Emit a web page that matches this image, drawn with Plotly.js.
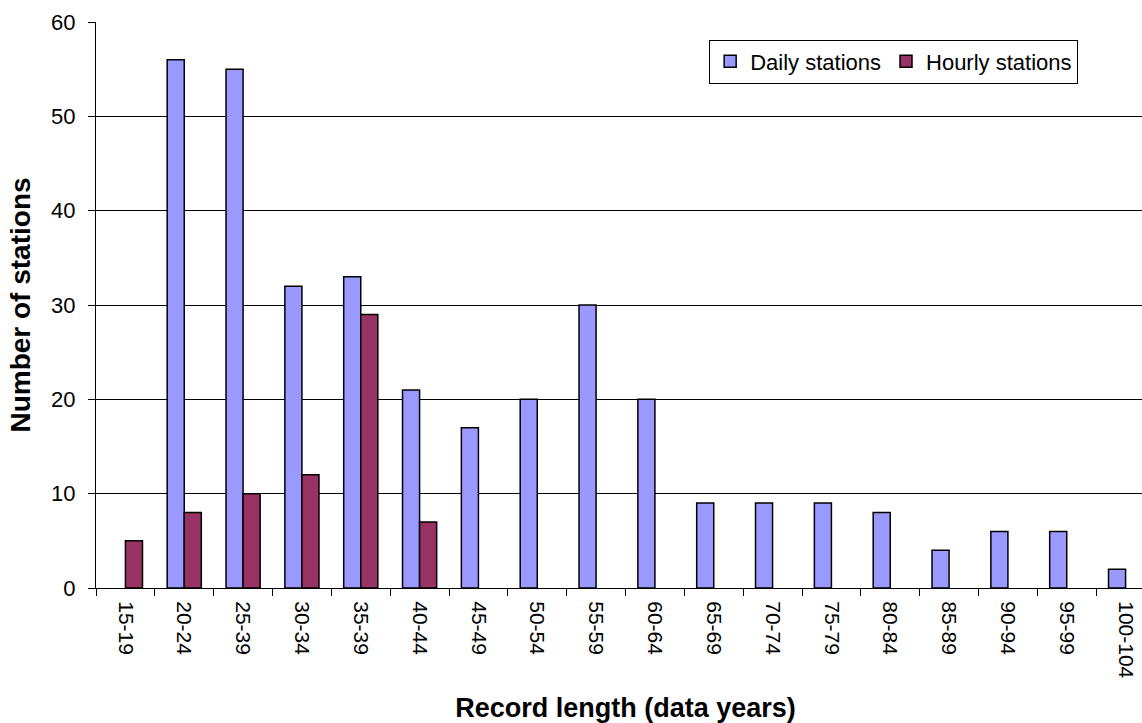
<!DOCTYPE html>
<html>
<head>
<meta charset="utf-8">
<script src="https://cdn.plot.ly/plotly-3.0.1.min.js"></script>
<style>
html,body{margin:0;padding:0;overflow:hidden;background:#fff;}
#chart{width:1160px;height:723px;}
</style>
</head>
<body>
<div id="chart"></div>
<script>
const categories = ["15-19","20-24","25-39","30-34","35-39","40-44","45-49","50-54","55-59","60-64","65-69","70-74","75-79","80-84","85-89","90-94","95-99","100-104"];
const dailyStations = [null,56,55,32,33,21,17,20,30,20,9,9,9,8,4,6,6,2];
const hourlyStations = [5,8,10,12,29,7,null,null,null,null,null,null,null,null,null,null,null,null];
const yTicks = [0,10,20,30,40,50,60];

const font = "Liberation Sans, Arial, sans-serif";

const traces = [
  {type:"bar", name:"Daily stations", x:categories, y:dailyStations,
   marker:{color:"#9999FF", line:{color:"#000", width:1.5}}},
  {type:"bar", name:"Hourly stations", x:categories, y:hourlyStations,
   marker:{color:"#993366", line:{color:"#000", width:1.5}}}
];

const layout = {
  width:1160, height:723,
  margin:{l:96, r:5, t:22, b:135},
  paper_bgcolor:"#fff", plot_bgcolor:"#fff",
  font:{family:font, color:"#000", size:20},
  barmode:"group", bargap:0.42, bargroupgap:0,
  showlegend:true,
  legend:{orientation:"h", x:0.579, y:0.969, xanchor:"left", yanchor:"top",
    bordercolor:"#000", borderwidth:1, bgcolor:"#fff",
    font:{family:font, size:22}, itemwidth:20, tracegroupgap:0},
  xaxis:{type:"category", tickson:"boundaries", ticks:"outside", ticklen:7, tickcolor:"#000",
    tickangle:90, tickfont:{size:21, family:font}, ticklabelstandoff:8,
    showline:true, linecolor:"#000", linewidth:1, showgrid:false, zeroline:false,
    automargin:false,
    title:{text:"<b>Record length (data years)</b>", font:{size:27, family:font}, standoff:32}},
  yaxis:{range:[0,60], tickvals:yTicks, ticks:"outside", ticklen:7, tickcolor:"#000",
    tickfont:{size:22, family:font}, ticklabelstandoff:8,
    showline:true, linecolor:"#000", linewidth:1,
    showgrid:true, gridcolor:"#000", gridwidth:1, zeroline:false, automargin:false,
    title:{text:"<b>Number of stations</b>", font:{size:28, family:font}, standoff:12}}
};

Plotly.newPlot("chart", traces, layout, {displayModeBar:false, staticPlot:true});
</script>
</body>
</html>
